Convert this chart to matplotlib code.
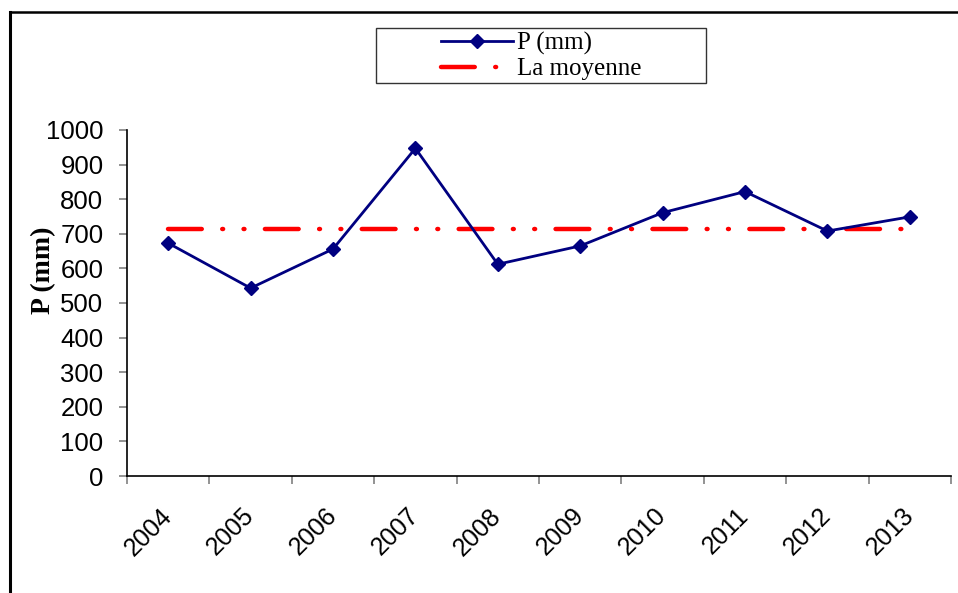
import matplotlib
matplotlib.use("Agg")
import matplotlib.pyplot as plt
from matplotlib.lines import Line2D
from matplotlib.patches import Rectangle

years = ["2004", "2005", "2006", "2007", "2008", "2009", "2010", "2011", "2012", "2013"]
precip = [673, 543, 656, 947, 612, 665, 761, 822, 708, 749]
mean_label = "La moyenne"
series_label = "P (mm)"
y_ticks = [0, 100, 200, 300, 400, 500, 600, 700, 800, 900, 1000]

mean_value = sum(precip) / len(precip)

W, H, DPI = 958, 593, 100
fig = plt.figure(figsize=(W / DPI, H / DPI), dpi=DPI)
fig.patch.set_facecolor("white")

# plot area
ax = fig.add_axes([127 / W, 1 - 476 / H, (951 - 127) / W, (476 - 130) / H])
x = list(range(len(years)))

ax.plot(x, precip, color="#000080", lw=2.0, marker="D", ms=7.5,
        mfc="#000080", mec="#000080", label=series_label, zorder=3)
ax.plot([x[0], x[-1]], [mean_value, mean_value], color="#FF0000", lw=3.2,
        linestyle=(0, (7.6, 4.6, 0.2, 4.6, 0.2, 4.6)), dash_capstyle="round",
        label=mean_label, zorder=2)

ax.set_xlim(-0.5, len(years) - 0.5)
ax.set_ylim(0, 1000)

for side in ("top", "right"):
    ax.spines[side].set_visible(False)
for side in ("left", "bottom"):
    ax.spines[side].set_color("black")
    ax.spines[side].set_linewidth(1.2)

sans = ["Liberation Sans", "DejaVu Sans"]
serif = ["Liberation Serif", "DejaVu Serif"]

ax.set_yticks(y_ticks)
ax.set_yticklabels([str(v) for v in y_ticks], family=sans, fontsize=18.5)
ax.tick_params(axis="y", which="major", direction="out", length=6,
               width=1.2, color="#808080", pad=11)

# category boundaries carry tick marks; category centres carry the labels
ax.set_xticks([i - 0.5 for i in range(len(years) + 1)])
ax.set_xticklabels([""] * (len(years) + 1))
ax.set_xticks(x, minor=True)
ax.set_xticklabels(years, minor=True, family=sans, fontsize=18)
ax.tick_params(axis="x", which="major", direction="out", length=6,
               width=1.2, color="#808080")
ax.tick_params(axis="x", which="minor", length=0, pad=26)
for lbl in ax.get_xticklabels(minor=True):
    lbl.set_rotation(45)
    lbl.set_ha("right")
    lbl.set_va("center")
    lbl.set_rotation_mode("anchor")

fig.text(44 / W, 1 - 270 / H, "P (mm)", rotation=90, ha="center", va="center",
         family=serif, fontweight="bold", fontsize=20)

# legend with a fixed frame
fig.add_artist(Rectangle((376 / W, 1 - 83 / H), (706 - 376) / W, (83 - 28) / H,
                         transform=fig.transFigure, fill=False,
                         edgecolor="#333333", lw=1.0))
leg = fig.legend(loc="center", bbox_to_anchor=(541 / W, 1 - 56 / H),
                 frameon=False, prop={"family": serif, "size": 18},
                 handlelength=2.9, handletextpad=0.15, labelspacing=0.12,
                 borderpad=0.0, numpoints=1)

# page border
fig.add_artist(Line2D([10 / W, 10 / W], [0, 1 - 11.5 / H], color="black",
                      lw=2.2, transform=fig.transFigure))
fig.add_artist(Line2D([10 / W, 1], [1 - 11.5 / H, 1 - 11.5 / H], color="black",
                      lw=1.8, transform=fig.transFigure))

fig.savefig("out.png", dpi=DPI, facecolor="white")
